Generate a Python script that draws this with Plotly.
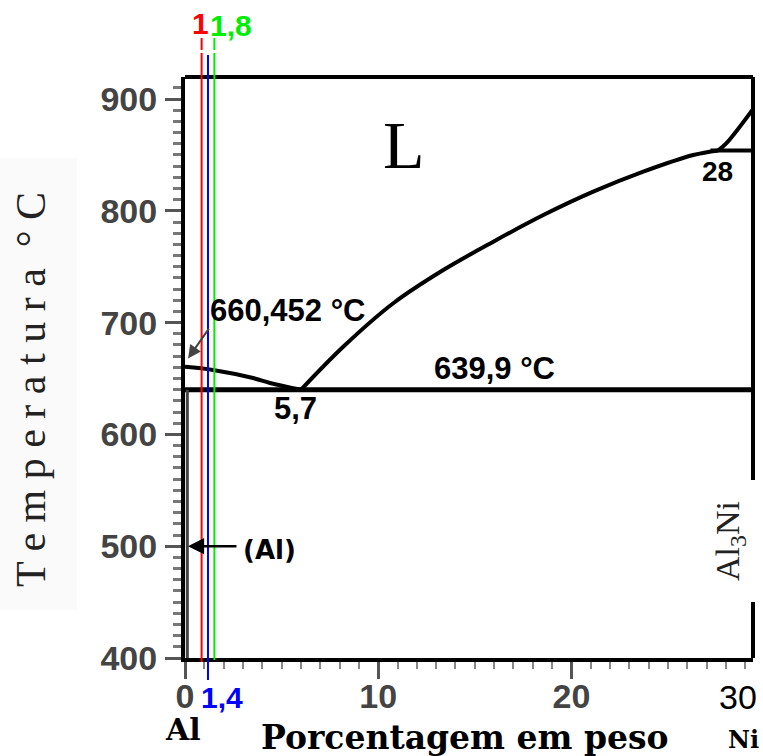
import plotly.graph_objects as go

# ---------------- data ----------------
liq_left_x = [0, 1.45, 3.52, 4.40, 6.0]
liq_left_T = [660.452, 657.6, 650.4, 646.0, 639.9]

liq_right_x = [6.0, 8.19, 10.78, 13.37, 15.96, 18.55, 21.13, 23.72, 26.31, 27.6]
liq_right_T = [639.9, 678.4, 717.3, 747.0, 772.4, 796.2, 817.1, 835.0, 849.9, 854.0]

rise_x = [27.6, 28.0, 29.4]
rise_T = [854.0, 860.0, 891.0]

eut_x = [0, 29.4]
eut_T = [639.9, 639.9]

perit_x = [27.2, 29.4]
perit_T = [854.0, 854.0]

solvus_x = [0.12, 0.12]
solvus_T = [639.9, 400]

comp_x = [0.86, 1.19, 1.52]          # drawn positions of the three alloy lines
comp_labels = ["1", "1,4", "1,8"]
comp_colors = ["#ff0000", "#0000ff", "#00ee00"]

y_ticks = [400, 500, 600, 700, 800, 900]
x_ticks = [0, 10, 20]
x_ticklabels = ["0", "10", "20"]

# ---------------- layout geometry ----------------
W, H = 763, 756
ML, MR, MT, MB = 185, 10, 77, 98
PW, PH = W - ML - MR, H - MT - MB


def px(x):
    return (x - ML) / PW


def py(y):
    return (H - MB - y) / PH


fig = go.Figure()
for xs, ts, w in [(liq_left_x, liq_left_T, 4), (liq_right_x, liq_right_T, 4), (rise_x, rise_T, 4),
                  (eut_x, eut_T, 5), (perit_x, perit_T, 4)]:
    fig.add_trace(go.Scatter(x=xs, y=ts, mode="lines", line=dict(color="black", width=w),
                             line_shape="spline", showlegend=False, hoverinfo="skip"))
fig.add_trace(go.Scatter(x=solvus_x, y=solvus_T, mode="lines",
                         line=dict(color="#444", width=3), showlegend=False, hoverinfo="skip"))

shapes = []
# faint background behind y title
shapes.append(dict(type="rect", xref="paper", yref="paper", x0=px(0), x1=px(77), y0=py(610), y1=py(158),
                   fillcolor="#fafafa", line=dict(width=0), layer="below"))
# top and right borders (right border interrupted by Al3Ni label)
shapes.append(dict(type="line", xref="paper", yref="paper", x0=0, x1=1, y0=1, y1=1,
                   line=dict(color="black", width=4)))
shapes.append(dict(type="line", xref="paper", yref="paper", x0=1, x1=1, y0=0, y1=py(602),
                   line=dict(color="black", width=4)))
shapes.append(dict(type="line", xref="paper", yref="paper", x0=1, x1=1, y0=py(480), y1=1,
                   line=dict(color="black", width=4)))

# colored composition lines
seg = {
    0: [(662, 53), (50, 38)],
    1: [(680, 55)],
    2: [(660, 53), (50, 38)],
}
for i, xv in enumerate(comp_x):
    for (yb, yt) in seg[i]:
        shapes.append(dict(type="line", xref="x", yref="paper", x0=xv, x1=xv, y0=py(yb), y1=py(yt),
                           line=dict(color=comp_colors[i], width=2), layer="above"))

bold = dict(family="Liberation Sans", size=31, color="black", weight=700)
serifb = dict(family="DejaVu Serif", size=33, color="black", weight=700)


def ann(text, x, y, font, **kw):
    d = dict(text=text, xref="paper", yref="paper", x=px(x), y=py(y), showarrow=False,
             xanchor="center", yanchor="middle", font=font)
    d.update(kw)
    return d


annotations = [
    ann("L", 404, 145, dict(family="Liberation Serif", size=68, color="black")),
    ann("660,452 °C", 287, 310, bold),
    ann("639,9 °C", 494, 368, bold),
    ann("5,7", 295, 408, bold),
    ann("28", 717, 172, dict(family="Liberation Sans", size=28, color="black", weight=700)),
    ann("(Al)", 269, 550, dict(family="DejaVu Sans", size=26, color="black", weight=700)),
    ann("Al<sub>3</sub>Ni", 730, 541, dict(family="Liberation Serif", size=34, color="#222"),
        textangle=-90, bgcolor="white", borderpad=10),
    ann("T e m p e r a t u r a  ° C", 31, 389, dict(family="Liberation Serif", size=42, color="#222"),
        textangle=-90),
    ann("Porcentagem em peso", 465, 737, serifb),
    ann("Al", 183, 730, dict(family="DejaVu Serif", size=30, color="black", weight=700)),
    ann("Ni", 743, 739, dict(family="DejaVu Serif", size=24, color="black", weight=700)),
    ann("30", 738, 697, dict(family="Liberation Sans", size=34, color="black")),
    ann(comp_labels[0], 200, 23, dict(family="Liberation Sans", size=30, color=comp_colors[0], weight=700)),
    ann(comp_labels[1], 222, 697, dict(family="Liberation Sans", size=30, color=comp_colors[1], weight=700)),
    ann(comp_labels[2], 231, 25, dict(family="Liberation Sans", size=30, color=comp_colors[2], weight=700)),
    # arrows
    dict(text="", x=0.15, y=500, xref="x", yref="y", ax=2.74, ay=500, axref="x", ayref="y",
         showarrow=True, arrowhead=2, arrowsize=1.3, arrowwidth=2.5, arrowcolor="black"),
    dict(text="", x=0.16, y=668, xref="x", yref="y", ax=1.29, ay=696, axref="x", ayref="y",
         showarrow=True, arrowhead=2, arrowsize=1.3, arrowwidth=2, arrowcolor="#444"),
]

tickfont = dict(family="Liberation Sans", size=34, color="#444", weight=700)

fig.update_layout(
    width=W, height=H,
    margin=dict(l=ML, r=MR, t=MT, b=MB, pad=0),
    paper_bgcolor="white", plot_bgcolor="white",
    shapes=shapes, annotations=annotations,
    xaxis=dict(range=[0, 29.4], showgrid=False, zeroline=False, showline=True, linecolor="black",
               linewidth=4, ticks="outside", ticklen=17, tickwidth=3, tickcolor="#555",
               tickvals=x_ticks, ticktext=x_ticklabels, tickfont=tickfont, ticklabelstandoff=-12,
               minor=dict(ticks="outside", ticklen=7, tickwidth=2, tickcolor="#888", dtick=1, showgrid=False)),
    yaxis=dict(range=[400, 919.7], showgrid=False, zeroline=False, showline=True, linecolor="black",
               linewidth=4, ticks="outside", ticklen=16, tickwidth=3, tickcolor="#555",
               tickvals=y_ticks, tickfont=tickfont, ticklabelstandoff=1,
               minor=dict(ticks="outside", ticklen=8, tickwidth=2.5, tickcolor="#777", dtick=10, showgrid=False)),
)

fig.write_html("out.html")
